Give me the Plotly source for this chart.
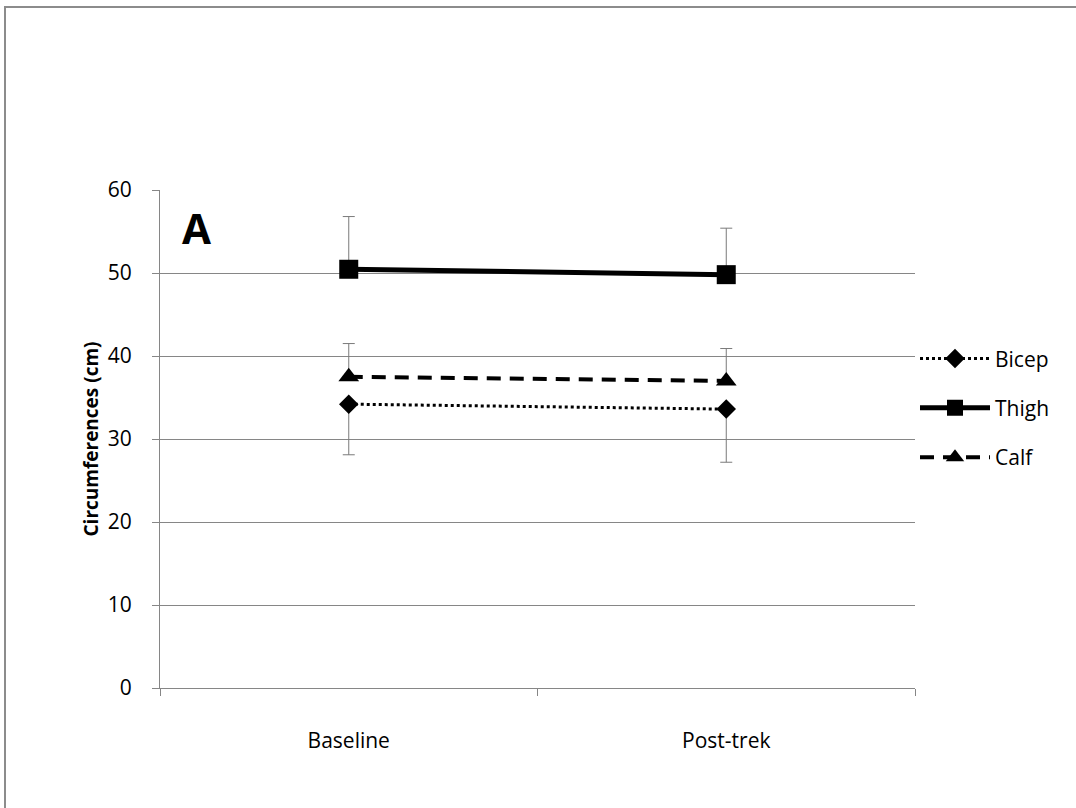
import plotly.graph_objects as go

categories = ["Baseline", "Post-trek"]
bicep = [34.2, 33.6]
bicep_err_minus = [6.1, 6.4]
thigh = [50.45, 49.8]
thigh_err_plus = [6.35, 5.6]
calf = [37.5, 37.0]
calf_err_plus = [4.0, 3.9]
y_ticks = [0, 10, 20, 30, 40, 50, 60]

FONT = "'Open Sans', sans-serif"
GRAY = "#868686"
ERR = dict(color="#7a7a7a", thickness=1, width=6)

fig = go.Figure()

fig.add_trace(go.Scatter(
    x=categories, y=bicep, name="Bicep", mode="lines+markers",
    line=dict(color="black", width=3, dash="dot"),
    marker=dict(symbol="diamond", size=15, color="black"),
    error_y=dict(type="data", symmetric=False, array=[0, 0], arrayminus=bicep_err_minus, **ERR),
    legendgroup="b",
))
fig.add_trace(go.Scatter(
    x=categories, y=thigh, name="Thigh", mode="lines+markers",
    line=dict(color="black", width=5),
    marker=dict(symbol="square", size=19, color="black"),
    error_y=dict(type="data", symmetric=False, array=thigh_err_plus, arrayminus=[0, 0], **ERR),
    legendgroup="t",
))
fig.add_trace(go.Scatter(
    x=categories, y=calf, name="Calf", mode="lines+markers",
    line=dict(color="black", width=4, dash="14px,9px"),
    marker=dict(symbol="triangle-up", size=18, color="black"),
    error_y=dict(type="data", symmetric=False, array=calf_err_plus, arrayminus=[0, 0], **ERR),
    legendgroup="c",
))

fig.add_annotation(text="<b>A</b>", xref="paper", yref="paper", x=0.027, y=0.925,
                   xanchor="left", yanchor="middle", showarrow=False,
                   font=dict(family=FONT, size=42, color="black"))

# outer border of the chart area
fig.add_shape(type="rect", xref="paper", yref="paper",
              x0=(5 - 160) / 755, x1=(1090 - 160) / 755,
              y0=(688 - 820) / 498, y1=(688 - 7) / 498,
              line=dict(color="#8c8c8c", width=2), fillcolor="rgba(0,0,0,0)", layer="below")

fig.update_layout(
    width=1076, height=808,
    margin=dict(l=160, r=161, t=190, b=120, pad=0),
    paper_bgcolor="white", plot_bgcolor="white",
    font=dict(family=FONT, size=20, color="black"),
    showlegend=True,
    legend=dict(x=1.0, xanchor="left", y=0.702, yanchor="top",
                font=dict(family=FONT, size=21, color="black"),
                tracegroupgap=19, bgcolor="rgba(0,0,0,0)", itemwidth=70),
    xaxis=dict(type="category", range=[-0.5, 1.5], tickson="boundaries",
               showgrid=False, showline=True, linecolor=GRAY, linewidth=1,
               ticks="outside", ticklen=7, tickcolor=GRAY,
               ticklabelstandoff=34, tickfont=dict(family=FONT, size=21), zeroline=False),
    yaxis=dict(range=[0, 60], tickvals=y_ticks, showgrid=True, gridcolor=GRAY, gridwidth=1,
               showline=True, linecolor=GRAY, linewidth=1, ticks="outside", ticklen=7,
               tickcolor=GRAY, ticklabelstandoff=16, zeroline=False,
               tickfont=dict(family=FONT, size=21),
               title=dict(text="<b>Circumferences (cm)</b>", standoff=4,
                          font=dict(family=FONT, size=19))),
)

fig.write_html("out.html", post_script="document.body.style.margin='0';",
               config={"displayModeBar": False})
